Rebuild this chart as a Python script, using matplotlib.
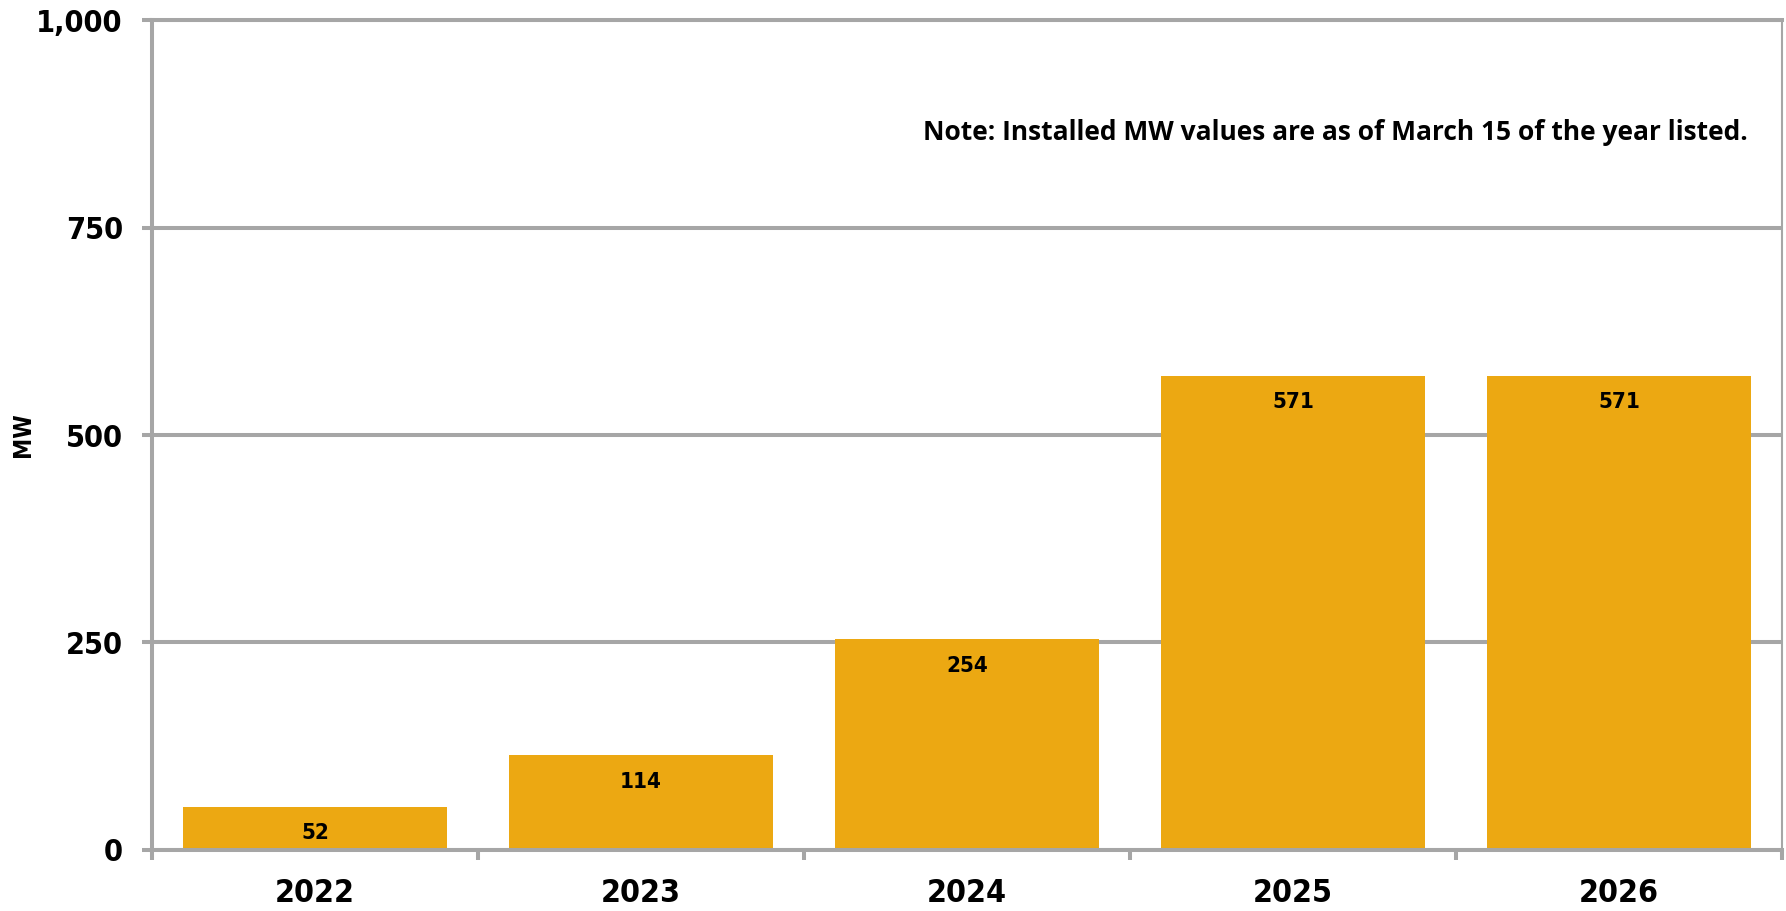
import numpy as np
import matplotlib.pyplot as plt
from matplotlib import font_manager

# data
years = ['2022', '2023', '2024', '2025', '2026']
mw = [52, 114, 254, 571, 571]
yticks = [0, 250, 500, 750, 1000]

bar_color = '#ECA812'
grid_color = '#A6A6A6'

# pick a narrow bold font if one is installed
names = {f.name for f in font_manager.fontManager.ttflist}
stretches = {(f.name, f.stretch) for f in font_manager.fontManager.ttflist}
if 'Liberation Sans Narrow' in names:
    narrow = dict(family=['Liberation Sans Narrow', 'DejaVu Sans'])
elif ('DejaVu Sans', 'condensed') in stretches or ('DejaVu Sans', 'semi-condensed') in stretches:
    narrow = dict(family=['DejaVu Sans'], stretch='condensed')
else:
    narrow = dict(family=['Liberation Sans', 'DejaVu Sans'])

fig = plt.figure(figsize=(17.86, 9.11), dpi=100)
ax = fig.add_axes([0.0851, 0.067, 0.9127, 0.911])

x = np.arange(len(years))
bars = ax.bar(x, mw, width=0.81, color=bar_color, zorder=2)

for xi, v in zip(x, mw):
    ax.annotate(str(v), (xi, v), xytext=(0, -19), textcoords='offset points',
                ha='center', va='center', fontsize=16, fontweight='bold', **narrow)

ax.set_xlim(-0.5, len(years) - 0.5)
ax.set_ylim(0, 1000)
ax.set_yticks(yticks)
ax.set_yticklabels([f'{v:,}' for v in yticks], fontsize=22, fontweight='bold', **narrow)
ax.set_xticks(x)
ax.set_xticklabels(years, fontsize=23, fontweight='bold', **narrow)
ax.set_xticks(np.arange(-0.5, len(years)), minor=True)

ax.tick_params(axis='x', which='major', length=0, pad=20)
ax.tick_params(axis='x', which='minor', length=7, width=2.9, color=grid_color)
ax.tick_params(axis='y', length=7, width=2.9, color=grid_color, pad=14)

ax.set_axisbelow(True)
ax.grid(axis='y', color=grid_color, linewidth=2.9)

for side in ['left', 'bottom', 'top']:
    ax.spines[side].set_color(grid_color)
    ax.spines[side].set_linewidth(2.9)
ax.spines['right'].set_color(grid_color)
ax.spines['right'].set_linewidth(1.5)

ax.set_ylabel('MW', fontsize=17, fontweight='bold', **narrow)
ax.yaxis.set_label_coords(-0.0718, 0.5)

ax.text(0.979, 0.865, 'Note: Installed MW values are as of March 15 of the year listed.',
        transform=ax.transAxes, ha='right', va='center', fontsize=19,
        fontweight='bold', family=['Open Sans', 'DejaVu Sans'])

fig.savefig('out.png', dpi=100)
